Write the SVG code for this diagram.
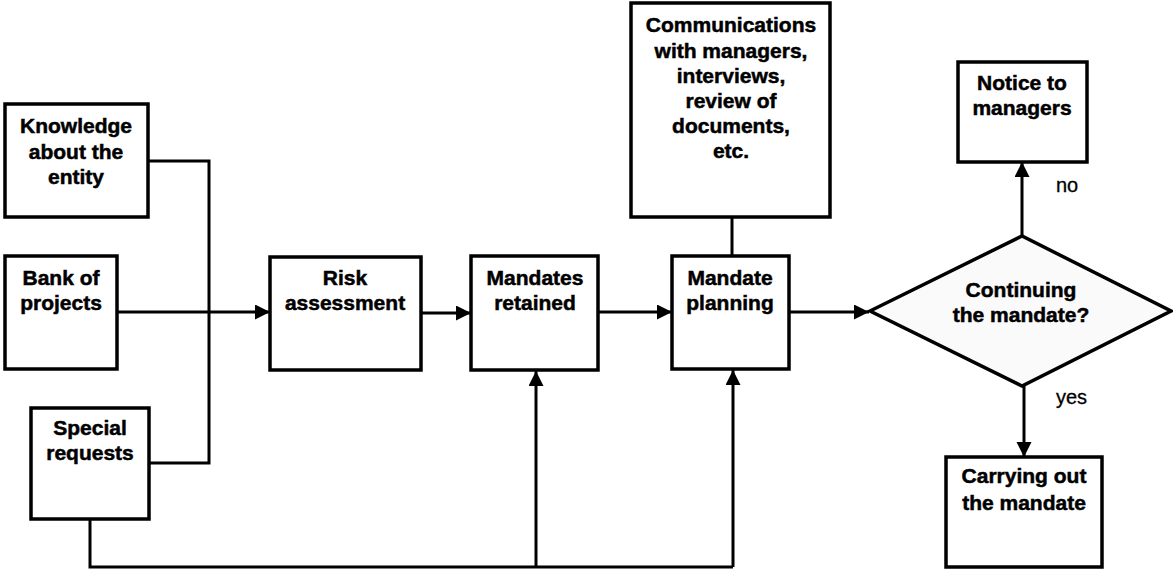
<svg xmlns="http://www.w3.org/2000/svg" width="1173" height="572" viewBox="0 0 1173 572">
  <style>
    .box { fill: #ffffff; stroke: #000000; stroke-width: 3.5; }
    .dec { fill: #fafafa; stroke: #000000; stroke-width: 3.5; stroke-linejoin: miter; }
    .lbl { font-family: "Liberation Sans", Arial, sans-serif; font-weight: bold; font-size: 21px; fill: #000000; stroke: #000000; stroke-width: 0.5; text-anchor: middle; }
    .tag { font-family: "Liberation Sans", Arial, sans-serif; font-size: 20px; fill: #000000; stroke: #000000; stroke-width: 0.3; }
    .wire { fill: none; stroke: #000000; stroke-width: 3; stroke-linejoin: miter; }
  </style>
  <defs>
    <marker id="arrow" markerUnits="userSpaceOnUse" markerWidth="16" markerHeight="16" refX="15" refY="7.5" orient="auto">
      <path d="M0,0 L15,7.5 L0,15 Z" fill="#000000"/>
    </marker>
  </defs>

  <rect width="1173" height="572" fill="#ffffff"/>

  <!-- connectors -->
  <g id="connectors">
    <!-- inputs merging into risk assessment -->
    <polyline class="wire" points="148,161 209,161 209,463 149,463"/>
    <line class="wire" x1="117" y1="312" x2="270" y2="312" marker-end="url(#arrow)"/>
    <line class="wire" x1="421" y1="313" x2="471" y2="313" marker-end="url(#arrow)"/>
    <line class="wire" x1="598" y1="312" x2="672" y2="312" marker-end="url(#arrow)"/>
    <line class="wire" x1="789" y1="312" x2="869" y2="312" marker-end="url(#arrow)"/>
    <!-- communications link -->
    <line class="wire" x1="732" y1="217" x2="732" y2="256"/>
    <!-- special requests feedback along the bottom -->
    <polyline class="wire" points="90,519 90,567 733,567"/>
    <line class="wire" x1="536" y1="567" x2="536" y2="371" marker-end="url(#arrow)"/>
    <line class="wire" x1="733" y1="567" x2="733" y2="370" marker-end="url(#arrow)"/>
    <!-- decision outcomes -->
    <line class="wire" x1="1022" y1="236" x2="1022" y2="162" marker-end="url(#arrow)"/>
    <line class="wire" x1="1024" y1="386" x2="1024" y2="457" marker-end="url(#arrow)"/>
    <text class="tag" x="1056" y="192">no</text>
    <text class="tag" x="1056" y="404">yes</text>
  </g>

  <g id="knowledge">
    <rect class="box" x="5" y="104" width="143" height="113"/>
    <text class="lbl" x="76" y="133">Knowledge</text>
    <text class="lbl" x="76" y="159">about the</text>
    <text class="lbl" x="76" y="184">entity</text>
  </g>

  <g id="bank">
    <rect class="box" x="5" y="256" width="112" height="113"/>
    <text class="lbl" x="61" y="285">Bank of</text>
    <text class="lbl" x="61" y="310">projects</text>
  </g>

  <g id="special">
    <rect class="box" x="31" y="408" width="118" height="111"/>
    <text class="lbl" x="90" y="435">Special</text>
    <text class="lbl" x="90" y="460">requests</text>
  </g>

  <g id="risk">
    <rect class="box" x="270" y="257" width="151" height="113"/>
    <text class="lbl" x="345" y="285">Risk</text>
    <text class="lbl" x="345" y="310">assessment</text>
  </g>

  <g id="retained">
    <rect class="box" x="471" y="256" width="127" height="114"/>
    <text class="lbl" x="535" y="285">Mandates</text>
    <text class="lbl" x="535" y="310">retained</text>
  </g>

  <g id="communications">
    <rect class="box" x="631" y="3" width="199" height="214"/>
    <text class="lbl" x="731" y="32">Communications</text>
    <text class="lbl" x="731" y="58">with managers,</text>
    <text class="lbl" x="731" y="83">interviews,</text>
    <text class="lbl" x="731" y="108">review of</text>
    <text class="lbl" x="731" y="133">documents,</text>
    <text class="lbl" x="731" y="158">etc.</text>
  </g>

  <g id="planning">
    <rect class="box" x="672" y="256" width="117" height="113"/>
    <text class="lbl" x="730" y="285">Mandate</text>
    <text class="lbl" x="730" y="310">planning</text>
  </g>

  <g id="decision">
    <polygon class="dec" points="870,311 1022,236 1171,311 1022,386"/>
    <text class="lbl" x="1021" y="297">Continuing</text>
    <text class="lbl" x="1021" y="322">the mandate?</text>
  </g>

  <g id="notice">
    <rect class="box" x="958" y="62" width="129" height="100"/>
    <text class="lbl" x="1022" y="90">Notice to</text>
    <text class="lbl" x="1022" y="115">managers</text>
  </g>

  <g id="carrying">
    <rect class="box" x="946" y="457" width="156" height="110"/>
    <text class="lbl" x="1024" y="483">Carrying out</text>
    <text class="lbl" x="1024" y="510">the mandate</text>
  </g>
</svg>
